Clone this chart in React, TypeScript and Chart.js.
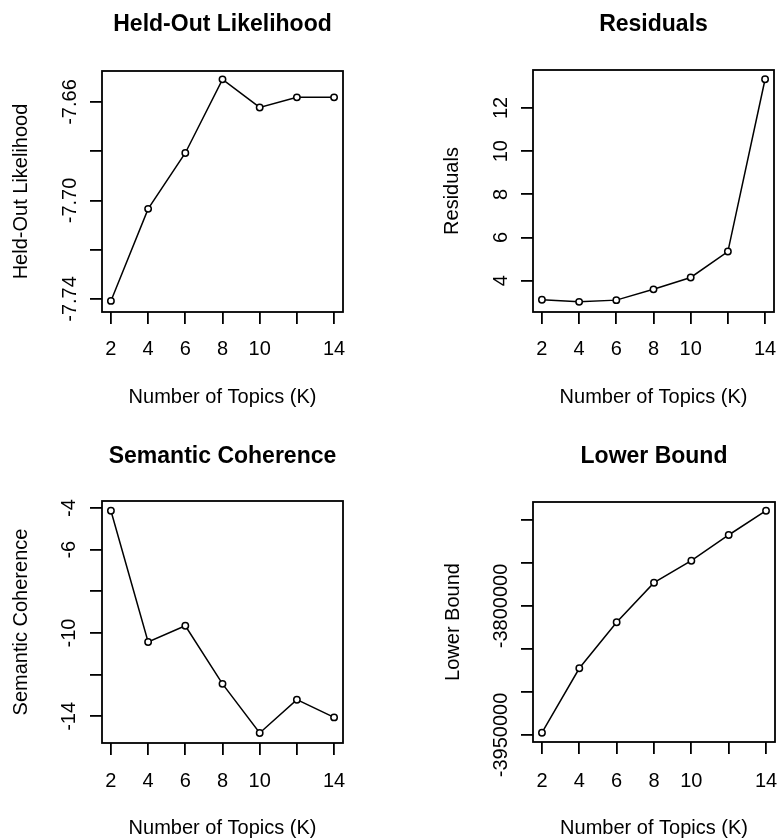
import React, { useEffect, useRef } from 'react';
import { Chart, registerables } from 'chart.js';

Chart.register(...registerables);

// ---------- data ----------
const topicsK = [2, 4, 6, 8, 10, 12, 14];
const xTickValues = [2, 4, 6, 8, 10, 12, 14];
const xTickLabels = ['2', '4', '6', '8', '10', '', '14'];
const xAxisTitle = 'Number of Topics (K)';

const heldOutLikelihood = [-7.7408, -7.7034, -7.6807, -7.6508, -7.6622, -7.6581, -7.6581];
const heldOutTicks = [-7.74, -7.72, -7.7, -7.68, -7.66];
const heldOutTickLabels = ['-7.74', '', '-7.70', '', '-7.66'];

const residuals = [3.12, 3.02, 3.1, 3.6, 4.15, 5.35, 13.33];
const residualTicks = [4, 6, 8, 10, 12];
const residualTickLabels = ['4', '6', '8', '10', '12'];

const semanticCoherence = [-4.13, -10.43, -9.65, -12.44, -14.8, -13.2, -14.05];
const coherenceTicks = [-14, -12, -10, -8, -6, -4];
const coherenceTickLabels = ['-14', '', '-10', '', '-6', '-4'];

const lowerBound = [-3947330, -3872440, -3818950, -3772900, -3747320, -3717440, -3689180];
const lowerBoundTicks = [-3950000, -3900000, -3850000, -3800000, -3750000, -3700000];
const lowerBoundTickLabels = ['-3950000', '', '', '-3800000', '', ''];

// ---------- layout ----------
const FONT = "'Liberation Sans', Arial, sans-serif";

interface PanelSpec {
  title: string;
  yTitle: string;
  values: number[];
  yTicks: number[];
  yTickLabels: string[];
  yMin: number;
  yMax: number;
  pos: { left: number; top: number; width: number; height: number };
  area: { left: number; top: number; right: number; bottom: number };
  titleCenter: number;
  yTitleCenter: number;
  yLabelCenter: number;
  xLabelCenter: number;
  xTitleCenter: number;
}

const panels: PanelSpec[] = [
  {
    title: 'Held-Out Likelihood',
    yTitle: 'Held-Out Likelihood',
    values: heldOutLikelihood,
    yTicks: heldOutTicks,
    yTickLabels: heldOutTickLabels,
    yMin: -7.7453,
    yMax: -7.6474,
    pos: { left: 0, top: 0, width: 389, height: 420 },
    area: { left: 102, top: 71, right: 343, bottom: 312 },
    titleCenter: 24.5,
    yTitleCenter: 21,
    yLabelCenter: 70,
    xLabelCenter: 349.5,
    xTitleCenter: 397,
  },
  {
    title: 'Residuals',
    yTitle: 'Residuals',
    values: residuals,
    yTicks: residualTicks,
    yTickLabels: residualTickLabels,
    yMin: 2.55,
    yMax: 13.76,
    pos: { left: 389, top: 0, width: 389, height: 420 },
    area: { left: 144, top: 70, right: 385, bottom: 312 },
    titleCenter: 24.7,
    yTitleCenter: 63,
    yLabelCenter: 112,
    xLabelCenter: 349.5,
    xTitleCenter: 397,
  },
  {
    title: 'Semantic Coherence',
    yTitle: 'Semantic Coherence',
    values: semanticCoherence,
    yTicks: coherenceTicks,
    yTickLabels: coherenceTickLabels,
    yMin: -15.28,
    yMax: -3.66,
    pos: { left: 0, top: 420, width: 389, height: 419 },
    area: { left: 102, top: 81, right: 343, bottom: 323 },
    titleCenter: 36.5,
    yTitleCenter: 21,
    yLabelCenter: 69,
    xLabelCenter: 361,
    xTitleCenter: 408,
  },
  {
    title: 'Lower Bound',
    yTitle: 'Lower Bound',
    values: lowerBound,
    yTicks: lowerBoundTicks,
    yTickLabels: lowerBoundTickLabels,
    yMin: -3958140,
    yMax: -3679070,
    pos: { left: 389, top: 420, width: 389, height: 419 },
    area: { left: 144, top: 82, right: 386, bottom: 322 },
    titleCenter: 36.5,
    yTitleCenter: 64,
    yLabelCenter: 112,
    xLabelCenter: 361,
    xTitleCenter: 408,
  },
];

const TITLE_SIZE = 23;
const LABEL_SIZE = 20;
const TICK_LEN = 12;

const boxPlugin = {
  id: 'rbox',
  beforeDatasetsDraw(chart: any) {
    const { ctx, chartArea } = chart;
    ctx.save();
    ctx.strokeStyle = '#000';
    ctx.lineWidth = 1.8;
    ctx.strokeRect(chartArea.left, chartArea.top, chartArea.right - chartArea.left, chartArea.bottom - chartArea.top);
    ctx.restore();
  },
};

function measureWidest(labels: string[]): number {
  const c = document.createElement('canvas').getContext('2d')!;
  c.font = `${LABEL_SIZE}px ${FONT}`;
  let w = 0;
  for (const l of labels) w = Math.max(w, c.measureText(l).width);
  return w;
}

function Panel({ spec }: { spec: PanelSpec }) {
  const ref = useRef<HTMLCanvasElement | null>(null);
  useEffect(() => {
    if (!ref.current) return;
    const { pos, area } = spec;
    const widest = measureWidest(spec.yTickLabels);
    const yTickPad = area.left - TICK_LEN - widest / 2 - spec.yLabelCenter;
    const xTickPad = spec.xLabelCenter - area.bottom - TICK_LEN - LABEL_SIZE / 2;
    const titlePadTop = spec.titleCenter - TITLE_SIZE / 2;
    const titlePadBottom = area.top - titlePadTop - TITLE_SIZE;
    const xTitlePad = pos.height - spec.xTitleCenter - LABEL_SIZE / 2;
    const yTitlePad = spec.yTitleCenter - LABEL_SIZE / 2;

    const grid = {
      display: true,
      drawOnChartArea: false,
      drawTicks: true,
      tickLength: TICK_LEN,
      tickColor: '#000',
      tickWidth: 1.8,
      color: '#000',
      lineWidth: 1.8,
    };
    const labelFont = { family: FONT, size: LABEL_SIZE, lineHeight: 1 };

    const chart = new Chart(ref.current, {
      type: 'line',
      data: {
        datasets: [
          {
            data: topicsK.map((k, i) => ({ x: k, y: spec.values[i] })),
            borderColor: '#000',
            borderWidth: 1.5,
            pointRadius: 3.2,
            pointBorderWidth: 1.5,
            pointBorderColor: '#000',
            pointBackgroundColor: '#fff',
            tension: 0,
            fill: false,
          },
        ],
      },
      options: {
        animation: false,
        responsive: false,
        maintainAspectRatio: false,
        devicePixelRatio: 1,
        layout: {
          autoPadding: false,
          padding: { left: 0, top: 0, right: pos.width - area.right, bottom: 0 },
        },
        plugins: {
          legend: { display: false },
          tooltip: { enabled: false },
          title: {
            display: true,
            text: spec.title,
            color: '#000',
            fullSize: false,
            font: { family: FONT, size: TITLE_SIZE, weight: 'bold', lineHeight: 1 },
            padding: { top: titlePadTop, bottom: titlePadBottom },
          },
        },
        scales: {
          x: {
            type: 'linear',
            min: 1.52,
            max: 14.48,
            afterBuildTicks: (s: any) => {
              s.ticks = xTickValues.map((v) => ({ value: v }));
            },
            afterFit: (s: any) => {
              s.height = pos.height - area.bottom;
              s.paddingLeft = 0;
              s.paddingRight = 0;
              s.paddingTop = 0;
              s.paddingBottom = 0;
            },
            ticks: {
              autoSkip: false,
              maxRotation: 0,
              minRotation: 0,
              color: '#000',
              font: labelFont,
              padding: xTickPad,
              callback: (_v: any, i: number) => xTickLabels[i],
            },
            grid,
            border: { display: false },
            title: {
              display: true,
              text: xAxisTitle,
              color: '#000',
              font: labelFont,
              padding: { top: 0, bottom: xTitlePad },
            },
          },
          y: {
            type: 'linear',
            min: spec.yMin,
            max: spec.yMax,
            afterBuildTicks: (s: any) => {
              s.ticks = spec.yTicks.map((v) => ({ value: v }));
            },
            afterFit: (s: any) => {
              s.width = area.left;
              s.paddingLeft = 0;
              s.paddingRight = 0;
              s.paddingTop = 0;
              s.paddingBottom = 0;
            },
            ticks: {
              autoSkip: false,
              minRotation: 90,
              maxRotation: 90,
              crossAlign: 'center',
              color: '#000',
              font: labelFont,
              padding: yTickPad,
              callback: (_v: any, i: number) => spec.yTickLabels[i],
            },
            grid,
            border: { display: false },
            title: {
              display: true,
              text: spec.yTitle,
              color: '#000',
              font: labelFont,
              padding: { top: yTitlePad, bottom: 0 },
            },
          },
        },
      } as any,
      plugins: [boxPlugin],
    });
    return () => chart.destroy();
  }, [spec]);

  return (
    <div
      style={{
        position: 'absolute',
        left: spec.pos.left,
        top: spec.pos.top,
        width: spec.pos.width,
        height: spec.pos.height,
      }}
    >
      <canvas
        ref={ref}
        width={spec.pos.width}
        height={spec.pos.height}
        style={{ display: 'block', width: spec.pos.width, height: spec.pos.height }}
      />
    </div>
  );
}

export default function App() {
  return (
    <div
      style={{
        position: 'absolute',
        left: 0,
        top: 0,
        width: 778,
        height: 839,
        background: '#fff',
        overflow: 'hidden',
      }}
    >
      {panels.map((p) => (
        <Panel key={p.title} spec={p} />
      ))}
    </div>
  );
}
